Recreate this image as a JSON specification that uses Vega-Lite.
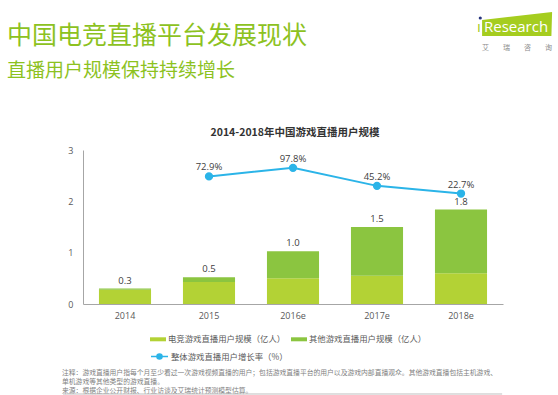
{
  "$schema": "https://vega.github.io/schema/vega-lite/v6.json",
  "width": 420,
  "height": 154,
  "autosize": {"type": "none"},
  "padding": {"left": 83, "top": 150, "right": 55, "bottom": 91},
  "background": "white",
  "title": {
    "text": "中国电竞直播平台发展现状",
    "subtitle": "直播用户规模保持持续增长",
    "anchor": "start",
    "frame": "group",
    "dx": -76,
    "dy": 69,
    "offset": 0,
    "font": "Noto Sans CJK SC",
    "fontSize": 25,
    "fontWeight": "normal",
    "color": "#8dc21f",
    "subtitleFont": "Noto Sans CJK SC",
    "subtitleFontSize": 19,
    "subtitleColor": "#8dc21f",
    "subtitlePadding": 13
  },
  "datasets": {
    "main": [
      {"year": "2014", "esports": 0.28, "other": 0.02, "total": 0.30, "rate": null},
      {"year": "2015", "esports": 0.43, "other": 0.09, "total": 0.52, "rate": 0.729},
      {"year": "2016e", "esports": 0.50, "other": 0.53, "total": 1.03, "rate": 0.978},
      {"year": "2017e", "esports": 0.55, "other": 0.95, "total": 1.50, "rate": 0.452},
      {"year": "2018e", "esports": 0.60, "other": 1.24, "total": 1.84, "rate": 0.227}
    ]
  },
  "data": {"name": "main"},
  "layer": [
    {
      "layer": [
        {
          "transform": [{"fold": ["esports", "other"], "as": ["series", "value"]}],
          "mark": {"type": "bar"},
          "encoding": {
            "x": {
              "field": "year", "type": "ordinal", "title": null,
              "scale": {"paddingInner": 0.38, "paddingOuter": 0.19},
              "axis": {"ticks": false, "domainColor": "#a6a6a6", "labelAngle": 0, "labelPadding": 7, "labelFontSize": 9, "labelColor": "#595959", "labelFont": "Open Sans"}
            },
            "y": {
              "field": "value", "type": "quantitative", "stack": "zero", "title": null,
              "scale": {"domain": [0, 3]},
              "axis": {"values": [0, 1, 2, 3], "format": "d", "ticks": false, "grid": false, "domainColor": "#a6a6a6", "labelPadding": 10, "labelFontSize": 9, "labelColor": "#595959", "labelFont": "Open Sans"}
            },
            "color": {
              "field": "series", "type": "nominal",
              "scale": {"domain": ["esports", "other"], "range": ["#b3d235", "#8bc540"]},
              "legend": {
                "orient": "none", "legendX": 67, "legendY": 181, "direction": "horizontal", "title": null,
                "padding": 0,
                "symbolType": "M-1,-0.25H1V0.25H-1Z", "symbolSize": 256, "symbolStrokeWidth": 0,
                "labelFont": "Noto Sans CJK SC", "labelFontSize": 8.4, "labelColor": "#595959", "labelOffset": 2,
                "columnPadding": 5,
                "labelExpr": "datum.label == 'esports' ? '电竞游戏直播用户规模（亿人）' : '其他游戏直播用户规模（亿人）'"
              }
            },
            "order": {"field": "series", "sort": "ascending"}
          }
        },
        {
          "mark": {"type": "text", "dy": -8, "fontSize": 9.5, "color": "#404040", "font": "Open Sans"},
          "encoding": {
            "x": {"field": "year", "type": "ordinal"},
            "y": {"field": "total", "type": "quantitative"},
            "text": {"field": "total", "type": "quantitative", "format": ".1f"}
          }
        },
        {
          "data": {"values": [{}]},
          "mark": {"type": "text", "text": "2014-2018年中国游戏直播用户规模", "fontSize": 10.5, "fontWeight": "bold", "font": "Noto Sans CJK SC", "color": "#333333", "dx": 2},
          "encoding": {
            "x": {"datum": "2016e", "type": "ordinal"},
            "y": {"datum": 3.33, "type": "quantitative"}
          }
        },
        {
          "data": {"values": [{}]},
          "mark": {"type": "point", "shape": "M-1,-0.143L1,-0.371L0.98,0.314L-1,0.314Z", "size": 4900, "filled": true, "color": "#a5cd1f", "opacity": 1, "strokeWidth": 0},
          "encoding": {
            "x": {"datum": "2018e", "type": "ordinal", "bandPosition": 1.577},
            "y": {"datum": 5.435, "type": "quantitative"}
          }
        },
        {
          "data": {"values": [{}]},
          "mark": {"type": "text", "text": "ı", "fontSize": 15, "font": "Open Sans", "color": "#a5cd1f", "align": "left", "dx": 16},
          "encoding": {
            "x": {"datum": "2018e", "type": "ordinal"},
            "y": {"datum": 5.40, "type": "quantitative"}
          }
        },
        {
          "data": {"values": [{}]},
          "mark": {"type": "point", "shape": "circle", "size": 10, "filled": true, "color": "#27357e", "opacity": 1},
          "encoding": {
            "x": {"datum": "2018e", "type": "ordinal", "bandPosition": 0.87},
            "y": {"datum": 5.572, "type": "quantitative"}
          }
        },
        {
          "data": {"values": [{}]},
          "mark": {"type": "text", "text": "Research", "fontSize": 15, "font": "Open Sans", "color": "white", "align": "left", "dx": 23},
          "encoding": {
            "x": {"datum": "2018e", "type": "ordinal"},
            "y": {"datum": 5.40, "type": "quantitative"}
          }
        },
        {
          "data": {"values": [{}]},
          "mark": {"type": "text", "text": "艾　　瑞　　咨　　询", "fontSize": 7, "font": "Noto Sans CJK SC", "color": "#8c8c8c", "dx": 56},
          "encoding": {
            "x": {"datum": "2018e", "type": "ordinal"},
            "y": {"datum": 4.987, "type": "quantitative"}
          }
        },
        {
          "data": {"values": [{}]},
          "mark": {
            "type": "text",
            "text": ["注释：游戏直播用户指每个月至少看过一次游戏视频直播的用户；包括游戏直播平台的用户以及游戏内部直播观众。其他游戏直播包括主机游戏、", "单机游戏等其他类型的游戏直播。", "来源：根据企业公开财报、行业访谈及艾瑞统计预测模型估算。"],
            "align": "left", "baseline": "top", "lineHeight": 8.7, "fontSize": 6.8, "font": "Noto Sans CJK SC", "color": "#7f7f7f", "dx": -63
          },
          "encoding": {
            "x": {"datum": "2014", "type": "ordinal"},
            "y": {"datum": -1.29, "type": "quantitative"}
          }
        },
        {
          "data": {"values": [{}]},
          "mark": {"type": "rule", "color": "#bfbfbf", "strokeWidth": 1},
          "encoding": {
            "x": {"datum": "2014", "type": "ordinal", "bandPosition": -0.69},
            "x2": {"datum": "2018e", "bandPosition": 1.29},
            "y": {"datum": -1.753, "type": "quantitative"}
          }
        }
      ]
    },
    {
      "transform": [{"filter": "datum.rate != null"}],
      "layer": [
        {
          "mark": {"type": "line", "strokeWidth": 2, "point": {"filled": true, "size": 40, "fill": "#2bb4e8"}},
          "encoding": {
            "x": {"field": "year", "type": "ordinal"},
            "y": {"field": "rate", "type": "quantitative", "scale": {"domain": [-3, 1.5]}, "axis": null},
            "stroke": {
              "datum": "整体游戏直播用户增长率（%）",
              "scale": {"range": ["#2bb4e8"]},
              "legend": {
                "orient": "none", "legendX": 67, "legendY": 197, "title": null, "padding": 0,
                "symbolType": "M-1,0H1M-0.3,0A0.3,0.3 0 1 1 0.3,0A0.3,0.3 0 1 1 -0.3,0Z",
                "symbolSize": 289, "symbolStrokeWidth": 1.5,
                "labelFont": "Noto Sans CJK SC", "labelFontSize": 8.4, "labelColor": "#595959", "labelOffset": 2,
                "encode": {"symbols": {"update": {"fill": {"value": "#2bb4e8"}, "stroke": {"value": "#2bb4e8"}, "strokeWidth": {"value": 1.5}}}}
              }
            }
          }
        },
        {
          "mark": {"type": "text", "dy": -9, "fontSize": 9.5, "color": "#404040", "font": "Open Sans"},
          "encoding": {
            "x": {"field": "year", "type": "ordinal"},
            "y": {"field": "rate", "type": "quantitative"},
            "text": {"field": "rate", "type": "quantitative", "format": ".1%"}
          }
        }
      ]
    }
  ],
  "resolve": {"scale": {"y": "independent"}},
  "config": {"view": {"stroke": null}, "font": "Noto Sans CJK SC"}
}
